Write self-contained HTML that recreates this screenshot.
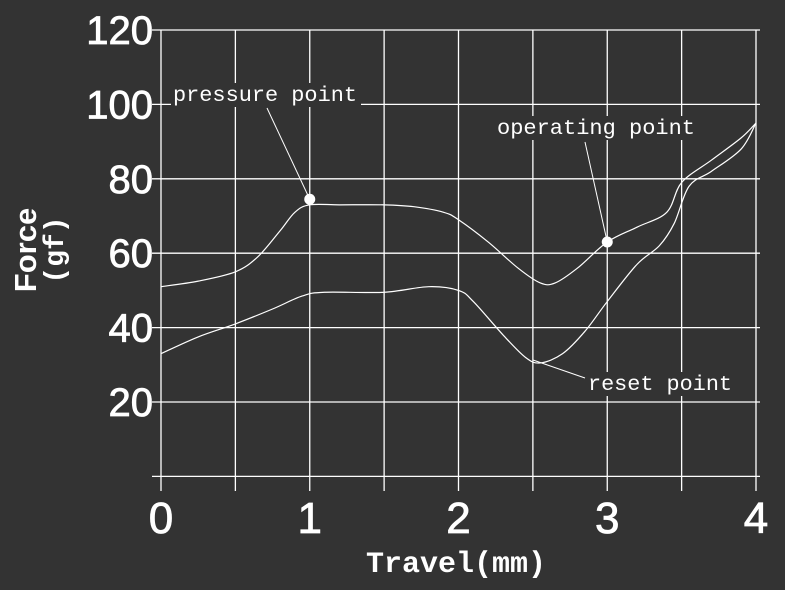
<!DOCTYPE html>
<html><head><meta charset="utf-8"><style>
html,body{margin:0;padding:0;background:#333;}
svg{display:block;}
</style></head><body>
<svg id="chart" width="785" height="590" viewBox="0 0 785 590" xmlns="http://www.w3.org/2000/svg">
<rect width="785" height="590" fill="#333"/>
<g id="grid"></g>
<g id="ticks"></g>
<g id="series"></g>
<g id="notes"></g>
<text x="456" y="572" fill="#fff" font-family="Liberation Mono, monospace" font-weight="bold" font-size="30" text-anchor="middle">Travel(mm)</text>
<g transform="translate(36,250) rotate(-90)">
<text x="0" y="0" fill="#fff" font-family="Liberation Sans, sans-serif" font-weight="bold" font-size="31" text-anchor="middle">Force</text>
<text x="0" y="27" fill="#fff" font-family="Liberation Mono, monospace" font-weight="bold" font-size="28" text-anchor="middle">(gf)</text>
</g>
</svg>
<script>
const xTicks=[0,1,2,3,4];
const yTicks=[20,40,60,80,100,120];
const pressX=[0,0.25,0.5,0.65,0.8,0.9,1.0,1.2,1.5,1.7,1.9,2.0,2.2,2.4,2.55,2.65,2.8,3.0,3.2,3.4,3.5,3.7,3.9,4.0];
const pressY=[51,52.5,55,59,66,71,73,73,73,72.5,71,69,63,56,52,52,56,63,67,71,79,85,91,95];
const resetX=[0,0.25,0.5,0.75,0.95,1.1,1.5,1.8,2.0,2.1,2.3,2.45,2.55,2.7,2.85,3.0,3.2,3.35,3.45,3.55,3.7,3.9,4.0];
const resetY=[33,37.5,41,45,48.5,49.5,49.5,51,50,47,38,32,30.5,33,39,47,57,62,68,78,82,88,95];
const markX=[1,3];
const markY=[74.5,63];
const NS='http://www.w3.org/2000/svg';
const X0=161,X1=756,Y0=476.4,Y1=30;
const sx=v=>X0+(X1-X0)*v/4;
const sy=v=>Y0-(Y0-Y1)*v/120;
function mk(tag,attrs,parent){const e=document.createElementNS(NS,tag);for(const k in attrs)e.setAttribute(k,attrs[k]);parent.appendChild(e);return e;}
const grid=document.getElementById('grid');
for(let i=0;i<=8;i++){const x=sx(i*0.5);
const l=mk('line',{x1:x,x2:x,y1:Y1,y2:491,stroke:'#fff','stroke-width':1.3},grid);

}
for(let v=0;v<=120;v+=20){const y=sy(v);
const l=mk('line',{x1:152,x2:760,y1:y,y2:y,stroke:'#fff','stroke-width':1.3},grid);

}
const ticks=document.getElementById('ticks');
xTicks.forEach(v=>{const t=mk('text',{x:sx(v),y:533,fill:'#fff',stroke:'#fff','stroke-width':0.8,'font-family':'Liberation Sans, sans-serif','font-size':44,'text-anchor':'middle'},ticks);t.textContent=v;

});
yTicks.forEach(v=>{const t=mk('text',{x:153,y:sy(v)+14,fill:'#fff',stroke:'#fff','stroke-width':0.8,'font-family':'Liberation Sans, sans-serif','font-size':40,'text-anchor':'end'},ticks);t.textContent=v;

});
function smooth(xs,ys){const p=xs.map((x,i)=>[sx(x),sy(ys[i])]);let d='M'+p[0][0]+','+p[0][1];
for(let i=0;i<p.length-1;i++){const a=p[Math.max(0,i-1)],b=p[i],c=p[i+1],e=p[Math.min(p.length-1,i+2)];
d+=' C'+(b[0]+(c[0]-a[0])/6)+','+(b[1]+(c[1]-a[1])/6)+' '+(c[0]-(e[0]-b[0])/6)+','+(c[1]-(e[1]-b[1])/6)+' '+c[0]+','+c[1];}return d;}
const series=document.getElementById('series');
const p1=mk('path',{d:smooth(pressX,pressY),fill:'none',stroke:'#fff','stroke-width':1.2},series);


const p2=mk('path',{d:smooth(resetX,resetY),fill:'none',stroke:'#fff','stroke-width':1.2},series);


const notes=document.getElementById('notes');
function label(txt,x,y,w,name){const r=mk('rect',{x:x-2,y:y-18,width:w,height:24,fill:'#333'},notes);


const t=mk('text',{x:x,y:y,fill:'#fff','font-family':'Liberation Mono, monospace','font-size':21,textLength:w-6,lengthAdjust:'spacingAndGlyphs'},notes);t.textContent=txt;

}
label('pressure point',173,101,190,'pressure-point-label');
label('operating point',497,134,204,'operating-point-label');
label('reset point',588,390,150,'reset-point-label');
[[267,108,sx(markX[0]),sy(markY[0])],[585,142,sx(markX[1]),sy(markY[1])],[533,360,585,378]].forEach(a=>{
const l=mk('line',{x1:a[0],y1:a[1],x2:a[2],y2:a[3],stroke:'#fff','stroke-width':1},notes);

});
markX.forEach((x,i)=>{const c=mk('circle',{cx:sx(x),cy:sy(markY[i]),r:5.5,fill:'#fff'},notes);

});
</script>
</body></html>
